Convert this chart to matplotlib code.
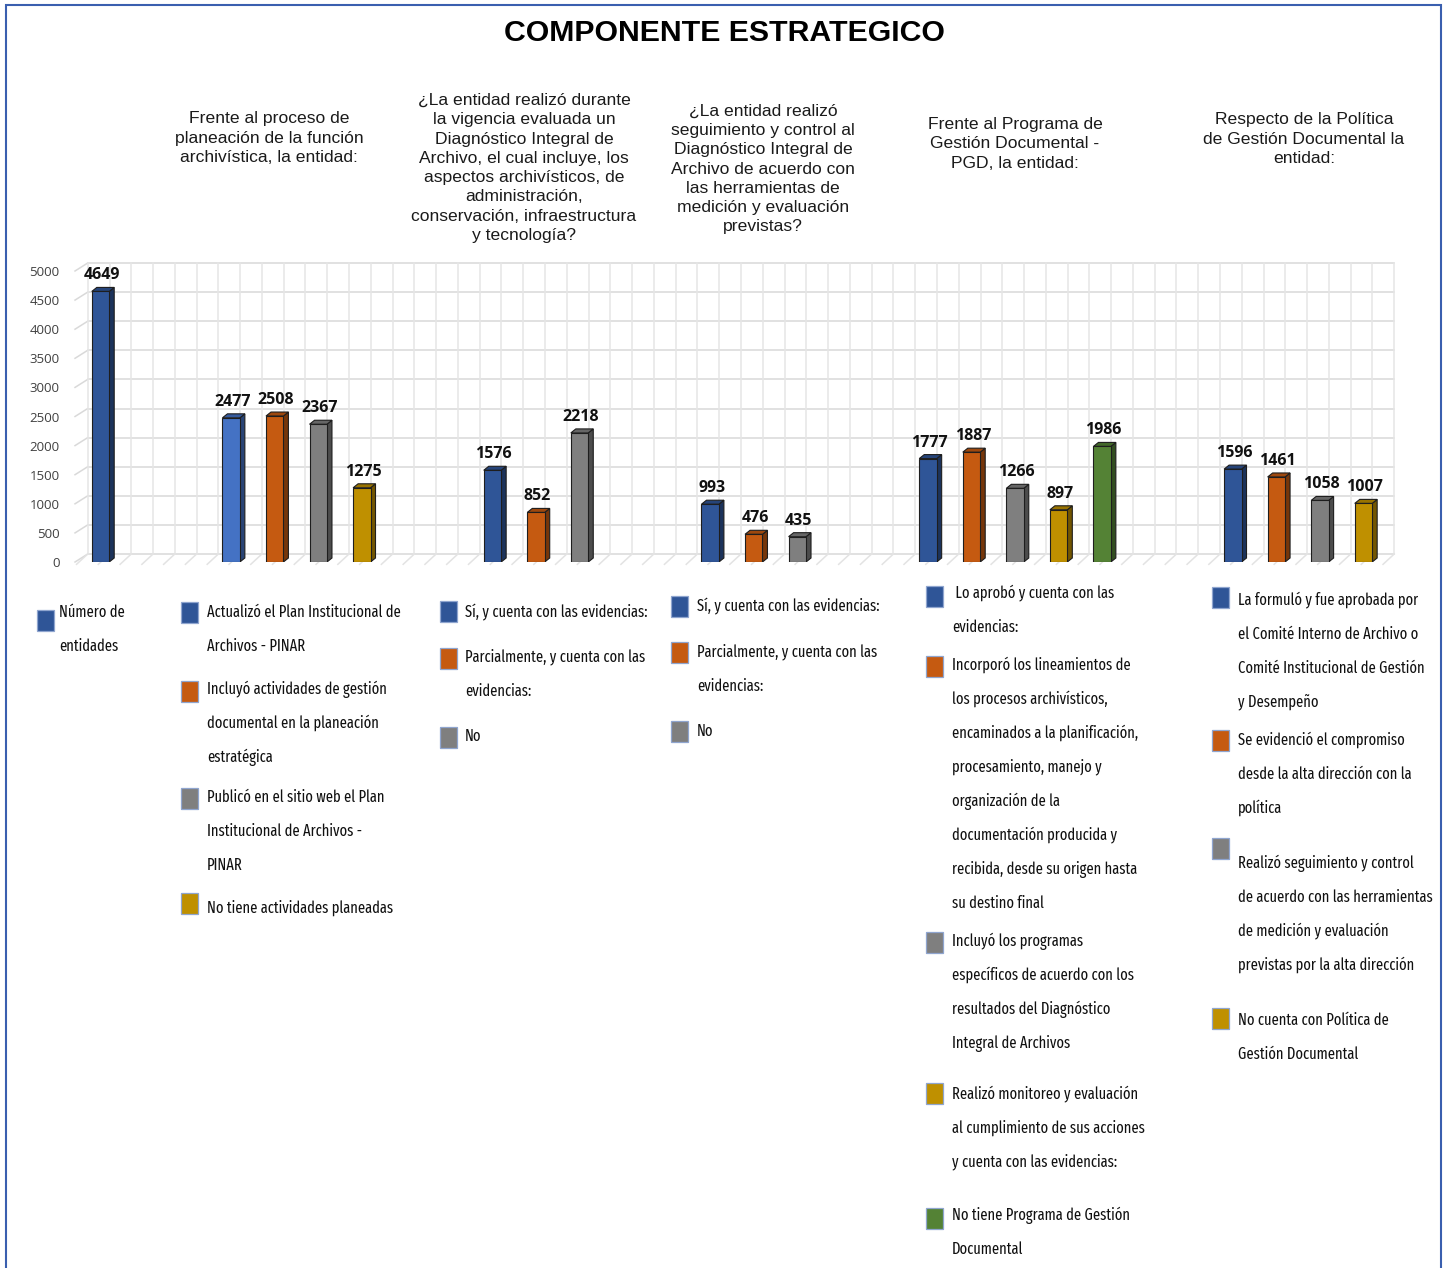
import os
import matplotlib
matplotlib.use("Agg")
import matplotlib.pyplot as plt
from matplotlib.patches import Rectangle, Polygon
from matplotlib import font_manager as fm
import matplotlib.colors as mcolors

# ---------------- data ----------------
title = "COMPONENTE ESTRATEGICO"

group_headers = [
    "",
    "Frente al proceso de\nplaneación de la función\narchivística, la entidad:",
    "¿La entidad realizó durante\nla vigencia evaluada un\nDiagnóstico Integral de\nArchivo, el cual incluye, los\naspectos archivísticos, de\nadministración,\nconservación, infraestructura\ny tecnología?",
    "¿La entidad realizó\nseguimiento y control al\nDiagnóstico Integral de\nArchivo de acuerdo con\nlas herramientas de\nmedición y evaluación\nprevistas?",
    "Frente al Programa de\nGestión Documental -\nPGD, la entidad:",
    "Respecto de la Política\nde Gestión Documental la\nentidad:",
]

g0_values = [4649]
g1_values = [2477, 2508, 2367, 1275]
g2_values = [1576, 852, 2218]
g3_values = [993, 476, 435]
g4_values = [1777, 1887, 1266, 897, 1986]
g5_values = [1596, 1461, 1058, 1007]
group_values = [g0_values, g1_values, g2_values, g3_values, g4_values, g5_values]

g0_labels = ["Número de\nentidades"]
g1_labels = ["Actualizó el Plan Institucional de\nArchivos - PINAR",
             "Incluyó actividades de gestión\ndocumental en la planeación\nestratégica",
             "Publicó en el sitio web el Plan\nInstitucional de Archivos -\nPINAR",
             "No tiene actividades planeadas"]
g2_labels = ["Sí, y cuenta con las evidencias:",
             "Parcialmente, y cuenta con las\nevidencias:",
             "No"]
g3_labels = ["Sí, y cuenta con las evidencias:",
             "Parcialmente, y cuenta con las\nevidencias:",
             "No"]
g4_labels = [" Lo aprobó y cuenta con las\nevidencias:",
             "Incorporó los lineamientos de\nlos procesos archivísticos,\nencaminados a la planificación,\nprocesamiento, manejo y\norganización de la\ndocumentación producida y\nrecibida, desde su origen hasta\nsu destino final",
             "Incluyó los programas\nespecíficos de acuerdo con los\nresultados del Diagnóstico\nIntegral de Archivos",
             "Realizó monitoreo y evaluación\nal cumplimiento de sus acciones\ny cuenta con las evidencias:",
             "No tiene Programa de Gestión\nDocumental"]
g5_labels = ["La formuló y fue aprobada por\nel Comité Interno de Archivo o\nComité Institucional de Gestión\ny Desempeño",
             "Se evidenció el compromiso\ndesde la alta dirección con la\npolítica",
             "Realizó seguimiento y control\nde acuerdo con las herramientas\nde medición y evaluación\nprevistas por la alta dirección",
             "No cuenta con Política de\nGestión Documental"]
group_labels = [g0_labels, g1_labels, g2_labels, g3_labels, g4_labels, g5_labels]

DARKBLUE = "#2F5597"
LIGHTBLUE = "#4472C4"
ORANGE = "#C55A11"
GRAY = "#7F7F7F"
GOLD = "#BF9000"
GREEN = "#548235"
group_colors = [
    [DARKBLUE],
    [LIGHTBLUE, ORANGE, GRAY, GOLD],
    [DARKBLUE, ORANGE, GRAY],
    [DARKBLUE, ORANGE, GRAY],
    [DARKBLUE, ORANGE, GRAY, GOLD, GREEN],
    [DARKBLUE, ORANGE, GRAY, GOLD],
]
legend_colors = [
    [DARKBLUE],
    [DARKBLUE, ORANGE, GRAY, GOLD],
    [DARKBLUE, ORANGE, GRAY],
    [DARKBLUE, ORANGE, GRAY],
    [DARKBLUE, ORANGE, GRAY, GOLD, GREEN],
    [DARKBLUE, ORANGE, GRAY, GOLD],
]

yticks = list(range(0, 5001, 500))

# ---------------- layout ----------------
W, H = 1445, 1268
fig = plt.figure(figsize=(W / 100, H / 100), dpi=100)
fig.patch.set_facecolor("white")
renderer = fig.canvas.get_renderer()

def fx(x):
    return x / W

def fy(y):
    return 1 - y / H

# pick a narrow regular font for the legends if one is installed
def pick_legend_font():
    bad_weight = ("light", "bold", "italic", "medium", "thin", "black", "oblique", "heavy")
    pools = {"extra": [], "cond": [], "semi": []}
    for f in fm.fontManager.ttflist:
        b = os.path.basename(f.fname).lower()
        key = b.replace("_", "").replace("-", "").replace(" ", "")
        if f.style != "normal" or any(k in key for k in bad_weight):
            continue
        if "ultracondensed" in key:
            continue
        if "extracondensed" in key:
            pools["extra"].append((key, f.fname))
        elif "semicondensed" in key:
            pools["semi"].append((key, f.fname))
        elif "condensed" in key or "narrow" in key:
            pools["cond"].append((key, f.fname))
    prefs = ["liberationsansnarrow", "notosans", "robotocondensed", "roboto", "opensans", "dejavusans"]
    for name in ("extra", "cond", "semi"):
        pool = sorted(pools[name])
        for p in prefs:
            for key, fn in pool:
                if key.startswith(p):
                    return fm.FontProperties(fname=fn)
        if pool:
            return fm.FontProperties(fname=pool[0][1])
    return fm.FontProperties(family=["Roboto", "DejaVu Sans"])

legend_fp = pick_legend_font()

def fit_size(fp, s, target):
    t = fig.text(0, 0, s, fontproperties=fp, fontsize=10)
    w = t.get_window_extent(renderer).width
    t.remove()
    return 10 * target / w

fit_samples = [("de acuerdo con las herramientas", 196), ("Actualizó el Plan Institucional de", 195),
               ("recibida, desde su origen hasta", 185), ("Sí, y cuenta con las evidencias:", 184)]
sizes = sorted(fit_size(legend_fp, s, t) for s, t in fit_samples)
legend_size = min(sizes[1], 15)

SLOT = 43.55
X0PX = 100.5
XMIN, XMAX = -0.585, 29.6
AX_L = X0PX + XMIN * SLOT
AX_R = X0PX + XMAX * SLOT
AX_B, AX_T = 562, 271

ax = fig.add_axes([fx(AX_L), fy(AX_B), (AX_R - AX_L) / W, (AX_B - AX_T) / H])
ax.set_xlim(XMIN, XMAX)
ax.set_ylim(0, 5000)
ax.patch.set_alpha(0)
for s in ax.spines.values():
    s.set_visible(False)
ax.set_xticks([])
ax.set_yticks(yticks)
ax.tick_params(axis="y", length=0, pad=11, labelsize=9.5, labelcolor="#404040")
for lab in ax.get_yticklabels():
    lab.set_family(["Open Sans", "DejaVu Sans"])

unit_per_px = 5000 / (AX_B - AX_T)
# 3D back wall offset (in data units)
dxd = 9 / SLOT
dyd = 8 * unit_per_px
gridc = "#D9D9D9"
gl = 1.1
for v in yticks:
    ax.plot([-0.5 + dxd, 29.5 + dxd], [v + dyd, v + dyd], color=gridc, lw=gl, zorder=0, clip_on=False)
    ax.plot([XMIN, -0.5 + dxd], [v, v + dyd], color=gridc, lw=gl, zorder=0, clip_on=False)
for k in range(61):
    xk = -0.5 + 0.5 * k
    ax.plot([xk + dxd, xk + dxd], [dyd, 5000 + dyd], color="#E6E6E6", lw=gl, zorder=0, clip_on=False)
    ax.plot([xk - 0.05, xk + dxd], [-40, dyd], color="#E3E3E3", lw=gl, zorder=0, clip_on=False)

# bar positions: consecutive slots with two empty slots between groups
positions = []
start = 0
for vals in group_values:
    positions.append([start + i for i in range(len(vals))])
    start += len(vals) + 2

bw = 0.40
ddx = 5 / SLOT
ddy = 4 * unit_per_px

def darker(c, f):
    r, g, b = mcolors.to_rgb(c)
    return (r * f, g * f, b * f)

edge = "#1E1E1E"
for vals, poss, cols in zip(group_values, positions, group_colors):
    ax.bar(poss, vals, width=bw, color=cols, edgecolor=edge, linewidth=0.8, zorder=3)
    for x, v, c in zip(poss, vals, cols):
        side = Polygon([(x + bw / 2, 0), (x + bw / 2 + ddx, ddy), (x + bw / 2 + ddx, v + ddy), (x + bw / 2, v)],
                       closed=True, facecolor=darker(c, 0.6), edgecolor=edge, lw=0.8, zorder=2)
        top = Polygon([(x - bw / 2, v), (x + bw / 2, v), (x + bw / 2 + ddx, v + ddy), (x - bw / 2 + ddx, v + ddy)],
                      closed=True, facecolor=darker(c, 0.8), edgecolor=edge, lw=0.8, zorder=2)
        ax.add_patch(side)
        ax.add_patch(top)
        ax.annotate(f"{v}", (x, v), xytext=(1, 11.5), textcoords="offset points",
                    ha="center", va="center", fontsize=11.5, fontweight="bold",
                    family=["Open Sans", "DejaVu Sans"], color="#111111", annotation_clip=False)

# title
fig.text(fx(724), fy(33), title, ha="center", va="center", fontsize=21.8, fontweight="bold",
         family=["Liberation Sans", "DejaVu Sans"], color="black")

# group headers
header_pos = [None, (269, 138), (524, 168), (763, 169), (1015, 144), (1304, 139)]
for txt, pos in zip(group_headers, header_pos):
    if pos is None:
        continue
    fig.text(fx(pos[0]), fy(pos[1]), txt, ha="center", va="center", fontsize=12.6,
             family=["Liberation Sans", "DejaVu Sans"], color="#1a1a1a", linespacing=1.36)

# legends
LINE = 34
legend_layout = [
    (37, 59, [(620, 612)]),
    (181, 207, [(613, 612), (691, 689), (798, 797), (903, 908)]),
    (440, 465, [(612, 612), (658, 657), (737, 736)]),
    (671, 697, [(606, 606), (652, 652), (731, 731)]),
    (926, 952, [(596, 593), (666, 665), (942, 941), (1093, 1094), (1218, 1215)]),
    (1212, 1238, [(597, 600), (740, 740), (848, 863), (1018, 1020)]),
]
SQW, SQH = 17, 21
for labels, cols, (sqx, tx, items) in zip(group_labels, legend_colors, legend_layout):
    for lab, c, (sqy, ty) in zip(labels, cols, items):
        fig.patches.append(Rectangle((fx(sqx), fy(sqy + SQH / 2)), SQW / W, SQH / H,
                                     transform=fig.transFigure, facecolor=c,
                                     edgecolor="#8FA5CF", lw=0.9))
        for i, line in enumerate(lab.split("\n")):
            fig.text(fx(tx), fy(ty + i * LINE), line, ha="left", va="center", fontsize=legend_size,
                     fontproperties=legend_fp, color="#111111")

# outer frame
fig.patches.append(Rectangle((fx(6), -0.01), (1441 - 6) / W, fy(5) + 0.01, transform=fig.transFigure,
                             facecolor="none", edgecolor="#3A5FAF", lw=1.5))

fig.savefig("out.png", dpi=100, facecolor="white")
